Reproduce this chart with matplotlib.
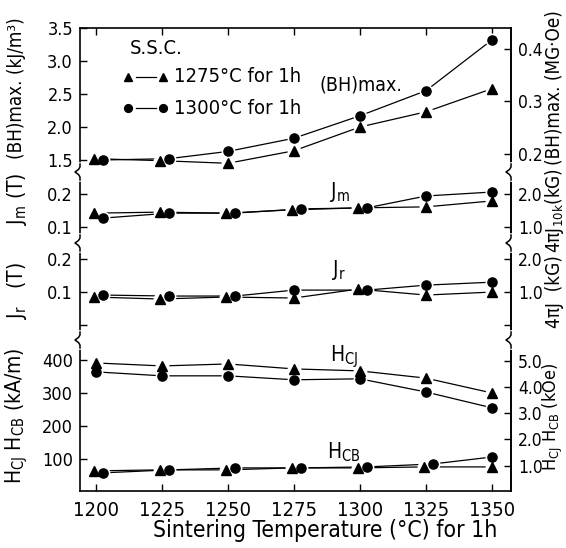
import numpy as np
import matplotlib
matplotlib.use('Agg')
import matplotlib.pyplot as plt
from matplotlib.lines import Line2D

# ---------------- data ----------------
temps = [1200, 1225, 1250, 1275, 1300, 1325, 1350]
bh_1275 = [1.52, 1.49, 1.45, 1.64, 2.00, 2.23, 2.58]
bh_1300 = [1.50, 1.52, 1.63, 1.83, 2.17, 2.55, 3.32]
jm_1275 = [0.142, 0.145, 0.142, 0.152, 0.158, 0.161, 0.179]
jm_1300 = [0.127, 0.142, 0.142, 0.155, 0.158, 0.194, 0.206]
jr_1275 = [0.085, 0.079, 0.085, 0.082, 0.109, 0.091, 0.100]
jr_1300 = [0.091, 0.088, 0.088, 0.106, 0.106, 0.121, 0.130]
hcj_1275 = [391, 382, 388, 373, 367, 345, 300]
hcj_1300 = [364, 352, 352, 340, 343, 303, 255]
hcb_1275 = [64, 67, 67, 73, 73, 76, 76]
hcb_1300 = [58, 67, 73, 73, 76, 85, 106]
series_labels = ['1275°C for 1h', '1300°C for 1h']
x_ticks = [1200, 1225, 1250, 1275, 1300, 1325, 1350]

# ---------------- style ----------------
plt.rcParams['font.family'] = ['DejaVu Sans']
plt.rcParams['font.stretch'] = 'condensed'
plt.rcParams['mathtext.fontset'] = 'custom'
plt.rcParams['mathtext.rm'] = 'DejaVu Sans:stretch=condensed'
plt.rcParams['mathtext.it'] = 'DejaVu Sans:stretch=condensed'
plt.rcParams['mathtext.default'] = 'regular'

W, H = 566, 548
fig = plt.figure(figsize=(W / 100, H / 100), dpi=100)
L, R, T, B = 80, 511, 28, 491
heights = [144, 71, 97, 151]
gs = fig.add_gridspec(4, 1, height_ratios=heights, hspace=0,
                      left=L / W, right=R / W, top=1 - T / H, bottom=1 - B / H)
axes = [fig.add_subplot(gs[i]) for i in range(4)]

panels = [
    dict(ylim=(1.318, 3.5), lt=[1.5, 2.0, 2.5, 3.0, 3.5], lfmt='%.1f', lhide=[],
         conv=7.958, rt=[0.2, 0.3, 0.4], rhide=[], data=[(bh_1275, bh_1300)]),
    dict(ylim=(0.0515, 0.2667), lt=[0.1, 0.2], lfmt='%.1f', lhide=[],
         conv=0.1, rt=[1.0, 2.0], rhide=[], data=[(jm_1275, jm_1300)]),
    dict(ylim=(-0.045, 0.2485), lt=[0.0, 0.1, 0.2], lfmt='%.1f', lhide=[0],
         conv=0.1, rt=[0.0, 1.0, 2.0], rhide=[0], data=[(jr_1275, jr_1300)]),
    dict(ylim=(3, 460.6), lt=[100, 200, 300, 400], lfmt='%d', lhide=[],
         conv=79.58, rt=[1.0, 2.0, 3.0, 4.0, 5.0], rhide=[],
         data=[(hcj_1275, hcj_1300), (hcb_1275, hcb_1300)]),
]

XL = (1193.94, 1357.2)
LW = 0.9
HALO = 10
MS_T, MS_C = 7.2, 6.6
TICK_FS = 13
RT_FS = 12.5
XT_FS = 14.5


def shifted(ax, x, ya, yb, thr=6.0, da=-2.0, db=7.0):
    """Horizontally separate overlapping markers (display-space offsets)."""
    xa, xb = [], []
    inv = ax.transData.inverted()
    for xi, a, b in zip(x, ya, yb):
        pa = ax.transData.transform((xi, a))
        pb = ax.transData.transform((xi, b))
        if abs(pa[1] - pb[1]) < thr:
            xa.append(inv.transform((pa[0] + da, pa[1]))[0])
            xb.append(inv.transform((pb[0] + db, pb[1]))[0])
        else:
            xa.append(xi)
            xb.append(xi)
    return xa, xb


for i, (ax, p) in enumerate(zip(axes, panels)):
    ax.set_xlim(*XL)
    ax.set_ylim(*p['ylim'])
    for tri, cir in p['data']:
        xa, xb = shifted(ax, temps, tri, cir)
        for xs, ys, m, ms in ((xa, tri, '^', MS_T), (xb, cir, 'o', MS_C)):
            ax.plot(xs, ys, color='k', lw=LW, zorder=2)
            ax.plot(xs, ys, ls='none', marker='o', ms=HALO, mfc='white', mec='none', zorder=3)
            ax.plot(xs, ys, ls='none', marker=m, ms=ms, color='k', mec='k', zorder=4)

    for s in ax.spines.values():
        s.set_linewidth(1.2)
    ax.spines['top'].set_visible(i == 0)
    ax.spines['bottom'].set_visible(i == 3)

    labs = ['' if v in p['lhide'] else (p['lfmt'] % v) for v in p['lt']]
    ax.set_yticks(p['lt'], labs)
    ax.tick_params(axis='y', direction='in', length=5, width=1, pad=5, labelsize=TICK_FS)

    ax.set_xticks(x_ticks)
    ax.tick_params(axis='x', direction='in', length=5, width=1, top=(i == 0),
                   bottom=(i == 3), labelbottom=(i == 3), labelsize=XT_FS, pad=7)

    c = p['conv']
    sec = ax.secondary_yaxis('right', functions=(lambda v, c=c: v / c, lambda v, c=c: v * c))
    rl = ['' if v in p['rhide'] else '%.1f' % v for v in p['rt']]
    sec.set_yticks(p['rt'], rl)
    sec.tick_params(direction='in', length=5, width=1, pad=5, labelsize=RT_FS)
    sec.spines['right'].set_linewidth(1.2)

# break marks on the vertical spines at panel boundaries
yf = lambda py: 1 - py / H
bounds = [T + sum(heights[:k]) for k in (1, 2, 3)]
for yb in bounds:
    for xs in (L, R):
        fig.add_artist(Line2D([xs / W, xs / W], [yf(yb - 7), yf(yb + 7)],
                              color='white', lw=4, zorder=5))
        px = [xs, xs, xs - 1.5, xs - 5, xs - 1.5, xs, xs]
        py = [yb - 8, yb - 5, yb - 2.5, yb, yb + 2.5, yb + 5, yb + 8]
        fig.add_artist(Line2D([v / W for v in px], [yf(v) for v in py],
                              color='k', lw=1.1, zorder=6))

# legend (drawn as key glyphs + texts)
fig.text(130 / W, yf(49), 'S.S.C.', fontsize=14.5, ha='left', va='center')
for (m, ms), lab, yrow in zip((('^', 6.0), ('o', 5.6)), series_labels, (77, 108)):
    fig.add_artist(Line2D([136 / W, 156 / W], [yf(yrow), yf(yrow)], color='k', lw=LW))
    fig.add_artist(Line2D([128 / W, 163 / W], [yf(yrow), yf(yrow)], ls='none',
                          marker=m, ms=ms, color='k'))
    fig.text(174 / W, yf(yrow), lab, fontsize=14.5, ha='left', va='center')

# panel annotations
axes[0].text(1284.8, 2.64, '(BH)max.', fontsize=14, va='center', ha='left')
axes[1].text(1288.6, 0.206, 'J$_m$', fontsize=15, va='center', ha='left')
axes[2].text(1289.4, 0.167, 'J$_r$', fontsize=15, va='center', ha='left')
axes[3].text(1288.6, 409, 'H$_{CJ}$', fontsize=15, va='center', ha='left')
axes[3].text(1287.5, 121, 'H$_{CB}$', fontsize=15, va='center', ha='left')


def ftxt(xp, yp, s, fs):
    fig.text(xp / W, yf(yp), s, rotation=90, ha='center', va='center', fontsize=fs)


ftxt(17, 88, '(BH)max. (kJ/m³)', 13.5)
ftxt(17, 199, 'J$_m$ (T)', 15)
ftxt(17, 290, 'J$_r$   (T)', 15)
ftxt(17, 416, 'H$_{CJ}$ H$_{CB}$ (kA/m)', 15)
ftxt(554, 88, '(BH)max. (MG·Oe)', 13.5)
ftxt(554, 211, '4πJ$_{10k}$(kG)', 13.5)
ftxt(554, 292, '4πJ  (kG)', 13.5)
ftxt(553, 417, 'H$_{CJ}$ H$_{CB}$ (kOe)', 13)

fig.text(325 / W, yf(530), 'Sintering Temperature (°C) for 1h', ha='center',
         va='center', fontsize=16.5)

fig.savefig('out.png', dpi=100)
